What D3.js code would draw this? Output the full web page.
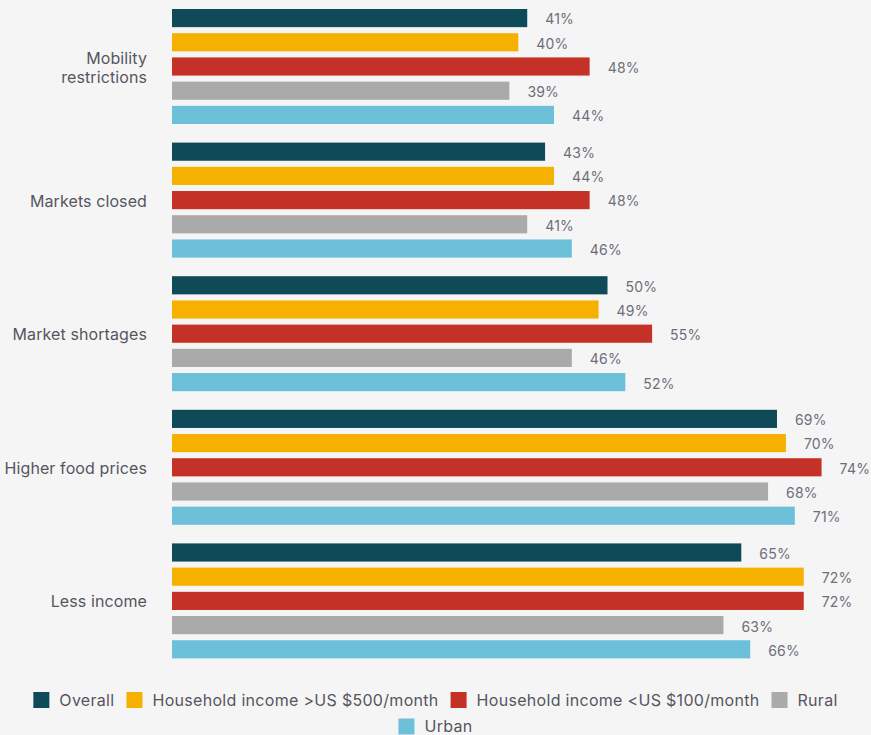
<!DOCTYPE html>
<html>
<head>
<meta charset="utf-8">
<script src="https://cdn.jsdelivr.net/npm/d3@7"></script>
<style>
  body { margin: 0; background: #f5f5f5; }
  #chart { width: 871px; height: 735px; }
  text { font-family: Inter, "Open Sans", sans-serif; }
</style>
</head>
<body>
<div id="chart"></div>
<script>
const width = 871, height = 735
const plotLeft = 172

// chart data
const categories = ["Mobility restrictions", "Markets closed", "Market shortages", "Higher food prices", "Less income"]
const categoryLines = [["Mobility", "restrictions"], ["Markets closed"], ["Market shortages"], ["Higher food prices"], ["Less income"]]
const series = ["Overall", "Household income >US $500/month", "Household income <US $100/month", "Rural", "Urban"]
const colors = ["#0f4a59", "#f6b000", "#c43126", "#aaaaaa", "#6cc0da"]
const overall = [41, 43, 50, 69, 65]
const incomeHigh = [40, 44, 49, 70, 72]
const incomeLow = [48, 48, 55, 74, 72]
const rural = [39, 41, 46, 68, 63]
const urban = [44, 46, 52, 71, 66]
const values = [overall, incomeHigh, incomeLow, rural, urban]

var svg = d3.select("#chart")
    .append("svg")
    .attr("width", width)
    .attr("height", height)
    .style("display", "block")

svg.append("rect")
    .attr("width", width)
    .attr("height", height)
    .attr("fill", "#f5f5f5")

var xScale = d3.scaleLinear()
    .domain([0, 100])
    .range([161.5, 1053.5])

var yGroup = d3.scaleBand()
    .domain(categories)
    .range([9, 677])

var yBar = d3.scaleBand()
    .domain(series)
    .range([0, 115])
    .paddingInner(0.25)

var groups = svg.selectAll("g.group")
    .data(categories)
    .join("g")
    .attr("class", "group")
    .attr("transform", d => "translate(0," + yGroup(d) + ")")

groups.each(function(cat, ci) {
    var g = d3.select(this)
    var rows = series.map((s, si) => ({s: s, v: values[si][ci], c: colors[si]}))

    g.selectAll("rect")
        .data(rows)
        .join("rect")
        .attr("x", plotLeft)
        .attr("y", d => yBar(d.s))
        .attr("width", d => xScale(d.v) - plotLeft)
        .attr("height", yBar.bandwidth())
        .attr("fill", d => d.c)

    g.selectAll("text.val")
        .data(rows)
        .join("text")
        .attr("class", "val")
        .attr("x", d => xScale(d.v) + 18)
        .attr("y", d => yBar(d.s) + yBar.bandwidth() / 2 + 1.5)
        .attr("dy", "0.35em")
        .attr("font-size", 14)
        .attr("letter-spacing", 0.2)
        .attr("fill", "#6e6e7a")
        .text(d => d.v + "%")

    // category label
    var lines = categoryLines[ci]
    var mid = 115 / 2 + 1
    var lbl = g.append("text")
        .attr("x", 147)
        .attr("text-anchor", "end")
        .attr("font-size", 16)
        .attr("letter-spacing", 0.1)
        .attr("fill", "#555560")
    lines.forEach((l, li) => {
        lbl.append("tspan")
            .attr("x", 147)
            .attr("y", mid + (li - (lines.length - 1) / 2) * 19)
            .attr("dy", "0.35em")
            .text(l)
    })
})

// legend, centered rows that wrap
var legend = svg.append("g")
var items = legend.selectAll("g")
    .data(series)
    .join("g")
items.append("rect")
    .attr("width", 16)
    .attr("height", 16)
    .attr("y", -8)
    .attr("fill", (d, i) => colors[i])
items.append("text")
    .attr("x", 26)
    .attr("dy", "0.35em")
    .attr("font-size", 16)
    .attr("letter-spacing", 0.3)
    .attr("fill", "#555560")
    .text(d => d)

var widths = []
items.each(function() { widths.push(this.getBBox().width) })
var gap = 12, maxW = 830, rowsOut = [[]], rowW = [0]
widths.forEach((w, i) => {
    var r = rowsOut.length - 1
    var add = (rowsOut[r].length ? gap : 0) + w
    if (rowW[r] + add > maxW && rowsOut[r].length) {
        rowsOut.push([i]); rowW.push(w)
    } else {
        rowsOut[r].push(i); rowW[r] += add
    }
})
rowsOut.forEach((row, r) => {
    var x = width / 2 - rowW[r] / 2
    row.forEach(i => {
        d3.select(items.nodes()[i]).attr("transform", "translate(" + x + "," + (700 + r * 26.5) + ")")
        x += widths[i] + gap
    })
})
</script>
</body>
</html>
